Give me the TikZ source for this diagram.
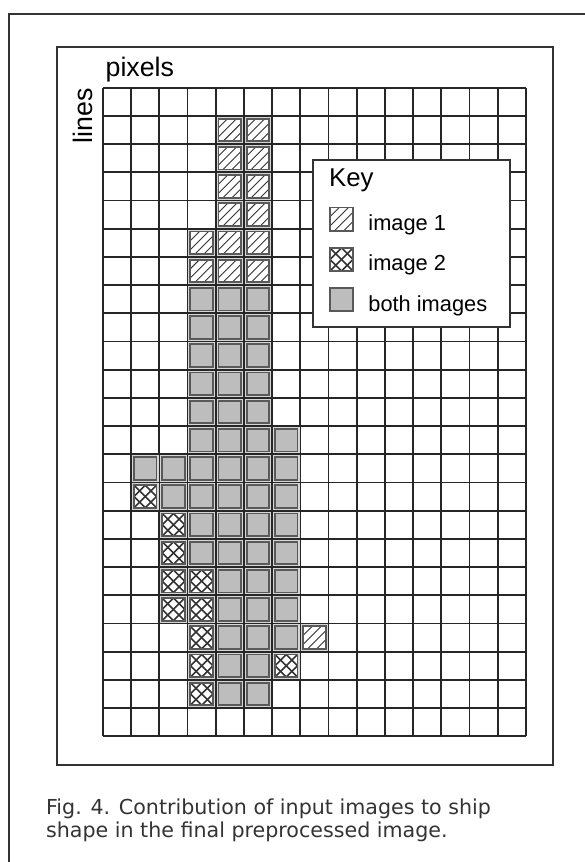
\documentclass[tikz,border=0pt]{standalone}
\usepackage{fontspec}
\setmainfont{Liberation Sans}
\newfontfamily\capfont{DejaVu Sans}
\usetikzlibrary{positioning}

\tikzset{
  gridline/.style={line width=0.9pt, black!85},
  frameline/.style={line width=0.8pt, black!80},
  cellbox/.style={draw=black!65, line width=0.9pt},
  hatchline/.style={line width=0.45pt, black!80},
  crossline/.style={line width=0.8pt, black!80},
  lbl/.style={inner sep=0pt, font=\fontsize{12.5}{14}\selectfont},
}

% #1,#2 = top left corner, #3 = side
\newcommand{\hatchsq}[3]{%
  \begin{scope}[shift={(#1,#2)}]
    \fill[white] (0,0) rectangle (#3,#3);
    \begin{scope}
      \clip (0,0) rectangle (#3,#3);
      \foreach \k in {0.4,0.8,1.2,1.6}
        \draw[hatchline] (\k*#3,0) -- (0,\k*#3);
    \end{scope}
    \draw[cellbox] (0,0) rectangle (#3,#3);
  \end{scope}}
\newcommand{\crosssq}[3]{%
  \begin{scope}[shift={(#1,#2)}]
    \fill[white] (0,0) rectangle (#3,#3);
    \begin{scope}
      \clip (0,0) rectangle (#3,#3);
      \foreach \k in {0.5,1,1.5}
        \draw[crossline] (\k*#3,0) -- (0,\k*#3);
      \foreach \k in {-0.5,0,0.5}
        \draw[crossline] (\k*#3,0) -- (\k*#3+#3,#3);
    \end{scope}
    \draw[cellbox] (0,0) rectangle (#3,#3);
  \end{scope}}
\newcommand{\bothsq}[3]{%
  \draw[cellbox, fill=gray!52] (#1,#2) rectangle ++(#3,#3);}

% one grid cell: column, row (row 0 at the top)
\newcommand{\pixcell}[3]{%
  \fill[gray!32] (#2+0.03,#3+0.03) rectangle ++(0.94,0.94);
  #1{#2+0.1}{#3+0.1}{0.8}}

\begin{document}
\begin{tikzpicture}[x=0.5cm, y=-0.5cm]
  \useasboundingbox (-3.652,-3.11) rectangle (17.09,27.46);

  % frames
  \draw[frameline] (-3.333,28) -- (-3.333,-2.613) -- (17.5,-2.613);
  \draw[frameline] (-1.631,-1.443) rectangle (15.957,24.02);

  % 15 x 23 pixel grid
  \foreach \i in {0,...,15}
    \draw[gridline] (\i,0) -- (\i,23);
  \foreach \j in {0,...,23}
    \draw[gridline] (0,\j) -- (15,\j);

  \node[lbl, font=\fontsize{13.5}{15}\selectfont, anchor=base west] (pixels) at (0.08,-0.415) {pixels};
  \node[lbl, font=\fontsize{13.5}{15}\selectfont, rotate=90, anchor=base east] (lines) at (-0.355,0) {lines};

  % image 1 only
  \foreach \r/\a/\b in {1/4/5, 2/4/5, 3/4/5, 4/4/5, 5/3/5, 6/3/5, 19/7/7}
    \foreach \c in {\a,...,\b}
      {\pixcell{\hatchsq}{\c}{\r}}
  % image 2 only
  \foreach \c/\r in {1/14, 2/15, 2/16, 2/17, 3/17, 2/18, 3/18, 3/19, 3/20, 6/20, 3/21}
    {\pixcell{\crosssq}{\c}{\r}}
  % both images
  \foreach \r/\a/\b in {7/3/5, 8/3/5, 9/3/5, 10/3/5, 11/3/5, 12/3/6, 13/1/6, 14/2/6,
                        15/3/6, 16/3/6, 17/4/6, 18/4/6, 19/4/6, 20/4/5, 21/4/5}
    \foreach \c in {\a,...,\b}
      {\pixcell{\bothsq}{\c}{\r}}

  % key
  \draw[frameline, fill=white] (7.447,2.564) rectangle (14.43,8.486);
  \node[lbl, font=\fontsize{13}{15}\selectfont, anchor=base west] (key) at (8.01,3.52) {Key};
  \hatchsq{8.05}{4.25}{0.82}
  \crosssq{8.05}{5.68}{0.82}
  \bothsq{8.05}{7.11}{0.82}
  \node[lbl, font=\fontsize{11}{13}\selectfont, anchor=base west] (img1) at (9.40,5.07) {image 1};
  \node[lbl, font=\fontsize{11}{13}\selectfont, anchor=base west] (img2) at (9.40,6.50) {image 2};
  \node[lbl, font=\fontsize{11}{13}\selectfont, anchor=base west] (both) at (9.40,7.93) {both images};

  % caption
  \node[inner sep=0pt, anchor=north west, align=left, text=black!80,
        font=\capfont\fontsize{10.4}{11.6}\selectfont] (caption) at (-2.03,25.22)
    {Fig. 4. Contribution of input images to ship\\shape in the final preprocessed image.};
\end{tikzpicture}
\end{document}
